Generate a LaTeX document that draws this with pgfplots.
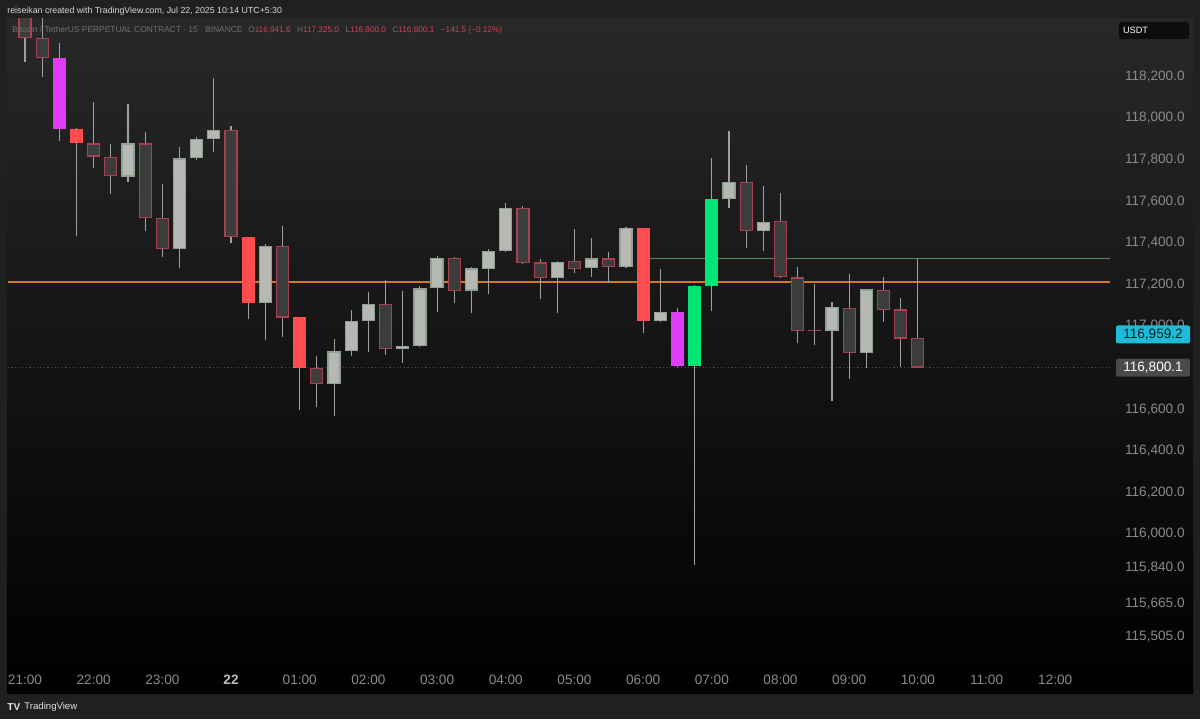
\documentclass[border=0pt]{standalone}
\usepackage{fontspec}
\setmainfont{Liberation Sans}
\usepackage{pgfplots}
\pgfplotsset{compat=1.18}
\usepackage{pgfplotstable}

\definecolor{outerbg}{HTML}{202020}
\definecolor{panetop}{HTML}{282828}
\definecolor{labelgrey}{HTML}{8A8A8A}
\definecolor{wick}{HTML}{A0A0A0}
\definecolor{bearfill}{HTML}{3C3C3C}
\definecolor{bearedge}{HTML}{A8404F}
\definecolor{bullfill}{HTML}{B5B8B3}
\definecolor{bulledge}{HTML}{8FA192}
\definecolor{redc}{HTML}{FF4D4F}
\definecolor{magc}{HTML}{E03CF7}
\definecolor{greenc}{HTML}{00E676}
\definecolor{orangeline}{HTML}{CC7A26}
\definecolor{greenline}{HTML}{4E8A5E}
\definecolor{cyanbox}{HTML}{1CBCD8}
\definecolor{greybox}{HTML}{4A4A4A}
\definecolor{headred}{HTML}{CC4458}
\definecolor{headgrey}{HTML}{707070}

% 15-minute candles, index 0 = 21:00
\pgfplotstableread{
i O H L C
0 118560 118600 118269 118385
1 118385 118480 118197 118288
4 117878 118078 117758 117814
5 117814 117875 117635 117721
7 117878 117934 117457 117518
8 117521 117681 117330 117370
12 117942 117962 117400 117429
15 117386 117481 116946 117040
17 116800 116856 116612 116721
21 117106 117221 116861 116888
25 117328 117330 117109 117168
29 117569 117578 117300 117304
30 117306 117320 117128 117232
32 117312 117465 117253 117274
34 117325 117357 117208 117282
42 117694 117774 117376 117457
44 117505 117641 117230 117234
45 117234 117285 116917 116976
48 117088 117249 116744 116869
50 117173 117237 117021 117077
51 117080 117133 116804 116939
52 116941.6 117325 116800 116800.1
}\bear

\pgfplotstableread{
i O H L C
46 116983 117202 116909 116976
}\doji

\pgfplotstableread{
i O H L C
6 117718 118067 117694 117878
9 117370 117859 117280 117806
10 117809 117910 117798 117899
11 117899 118191 117838 117942
14 117112 117394 116933 117386
18 116721 116939 116567 116878
19 116878 117077 116856 117025
20 117025 117165 116876 117106
22 116888 117170 116824 116904
23 116905 117192 116903 117181
24 117181 117337 117069 117328
26 117170 117283 117061 117277
27 117274 117370 117152 117362
28 117361 117593 117358 117569
31 117232 117312 117061 117309
33 117279 117425 117237 117325
35 117282 117475 117280 117470
37 117024 117274 117020 117069
41 117609 117938 117566 117694
43 117457 117673 117361 117502
47 116976 117114 116641 117090
49 116869 117180 116797 117176
}\bull

\pgfplotstableread{
i O H L C
3 117947 117950 117433 117878
13 117426 117430 117032 117112
16 117042 117045 116596 116800
36 117470 117472 116965 117024
}\redt

\pgfplotstableread{
i O H L C
2 118288 118362 117891 117947
38 117069 117085 116805 116808
}\magt

\pgfplotstableread{
i O H L C
39 116808 117196 115850 117194
40 117194 117809 117074 117609
}\greent

\pgfplotsset{
  wickplot/.style={draw=none, mark=none,
    error bars/.cd, y dir=both, y explicit, error mark=none,
    error bar style={draw=wick, line width=0.55pt}},
  bodyplot/.style={draw=none, mark=none,
    error bars/.cd, y dir=plus, y explicit, error mark=none,
    error bar style={draw=#1, line width=6.6pt}},
  innerplot/.style={draw=none, mark=none,
    error bars/.cd, y dir=plus, y explicit, error mark=none,
    error bar style={draw=#1, line width=5.4pt, shorten <=0.6pt, shorten >=0.6pt}},
}
\newcommand{\wicks}[1]{\addplot[wickplot] table[x=i, y=O,
   y error plus expr={\thisrow{H}-\thisrow{O}},
   y error minus expr={\thisrow{O}-\thisrow{L}}] {#1};}
\newcommand{\body}[2]{\addplot[bodyplot=#2] table[x=i,
   y expr={min(\thisrow{O},\thisrow{C})},
   y error plus expr={abs(\thisrow{C}-\thisrow{O})}] {#1};}
\newcommand{\inner}[2]{\addplot[innerplot=#2] table[x=i,
   y expr={min(\thisrow{O},\thisrow{C})},
   y error plus expr={abs(\thisrow{C}-\thisrow{O})}] {#1};}

\begin{document}
\begin{tikzpicture}
\path[use as bounding box] (0,0) rectangle (600pt,359.5pt);
\fill[outerbg] (0,0) rectangle (600pt,359.5pt);
\shade[top color=panetop, bottom color=black] (3.5pt,13pt) rectangle (596.5pt,350pt);

\begin{axis}[
  at={(4pt,27pt)}, anchor=south west,
  width=551pt, height=323pt, scale only axis,
  xmin=-0.99, xmax=63.19, ymin=115370.2, ymax=118475.96,
  axis line style={draw=none}, major tick length=0pt,
  xtick={0,4,...,60},
  xticklabels={21:00,22:00,23:00,{\textcolor{white!75!black}{\textbf{22}}},01:00,02:00,03:00,04:00,05:00,06:00,07:00,08:00,09:00,10:00,11:00,12:00},
  ytick={118200,118000,117800,117600,117400,117200,117000,116600,116400,116200,116000,115840,115665,115505},
  yticklabels={{118,200.0},{118,000.0},{117,800.0},{117,600.0},{117,400.0},{117,200.0},{117,000.0},{116,600.0},{116,400.0},{116,200.0},{116,000.0},{115,840.0},{115,665.0},{115,505.0}},
  yticklabel pos=right,
  ticklabel style={font=\fontsize{6.8}{8}\selectfont, text=labelgrey},
  xticklabel style={anchor=center, yshift=-7.5pt},
  yticklabel style={anchor=east, xshift=37.5pt, inner sep=0pt},
  scaled y ticks=false,
  clip=true,
]
% reference lines
\addplot[color=white!28!black, mark=none, line width=0.5pt, dash pattern=on 0.6pt off 1.2pt] coordinates {(-1,116800.1) (63.2,116800.1)};
\addplot[color=orangeline, mark=none, line width=0.62pt] coordinates {(-1,117212) (63.2,117212)};
\addplot[color=greenline, mark=none, line width=0.55pt] coordinates {(36.4,117325) (63.2,117325)};
% wicks
\wicks{\bear}
\wicks{\doji}
\wicks{\bull}
\wicks{\redt}
\wicks{\magt}
\wicks{\greent}
% bodies
\body{\bear}{bearedge}
\inner{\bear}{bearfill}
\body{\doji}{bearedge}
\body{\bull}{bulledge}
\inner{\bull}{bullfill}
\body{\redt}{redc}
\body{\magt}{magc}
\body{\greent}{greenc}
\coordinate (cy) at (axis cs:0,116959.2);
\coordinate (gy) at (axis cs:0,116800.1);
\end{axis}

% price scale labels
\node[fill=cyanbox, minimum width=37pt, minimum height=9pt, inner sep=0pt, rounded corners=1pt,
      font=\fontsize{6.8}{8}\selectfont, text=black!85!cyanbox] at (576.5pt,0 |- cy) {116,959.2};
\node[fill=greybox, minimum width=37pt, minimum height=9pt, inner sep=0pt, rounded corners=1pt,
      font=\fontsize{6.8}{8}\selectfont, text=white] at (576.5pt,0 |- gy) {116,800.1};
% currency box
\node[fill=black!95!white, minimum width=35pt, minimum height=8.5pt, inner sep=0pt, rounded corners=1pt,
      font=\fontsize{4.6}{5}\selectfont, text=white, text width=31pt, align=left] at (577pt,344.2pt) {USDT};

% header
\node[anchor=west, inner sep=0pt, text=white!85!black, font=\fontsize{4.4}{5}\selectfont] at (3.5pt,354pt)
  {reiseikan created with TradingView.com, Jul 22, 2025 10:14 UTC+5:30};
\node[anchor=west, inner sep=0pt, text=headgrey, font=\fontsize{4.2}{5}\selectfont] at (6pt,344.5pt)
  {Bitcoin / TetherUS PERPETUAL CONTRACT · 15 · BINANCE};
\node[anchor=west, inner sep=0pt, font=\fontsize{4.1}{5}\selectfont] at (124pt,344.5pt)
  {\textcolor{headgrey}{O}\textcolor{headred}{116,941.6}\hspace{0.8em}\textcolor{headgrey}{H}\textcolor{headred}{117,325.0}\hspace{0.8em}\textcolor{headgrey}{L}\textcolor{headred}{116,800.0}\hspace{0.8em}\textcolor{headgrey}{C}\textcolor{headred}{116,800.1}\hspace{0.8em}\textcolor{headred}{−141.5 (−0.12\%)}};

% footer
\node[anchor=west, inner sep=0pt, text=white!90!black, font=\fontsize{5}{6}\selectfont\bfseries] at (3.5pt,6pt) {TV};
\node[anchor=west, inner sep=0pt, text=white!90!black, font=\fontsize{4.8}{6}\selectfont] at (12pt,6pt) {TradingView};
\end{tikzpicture}
\end{document}
